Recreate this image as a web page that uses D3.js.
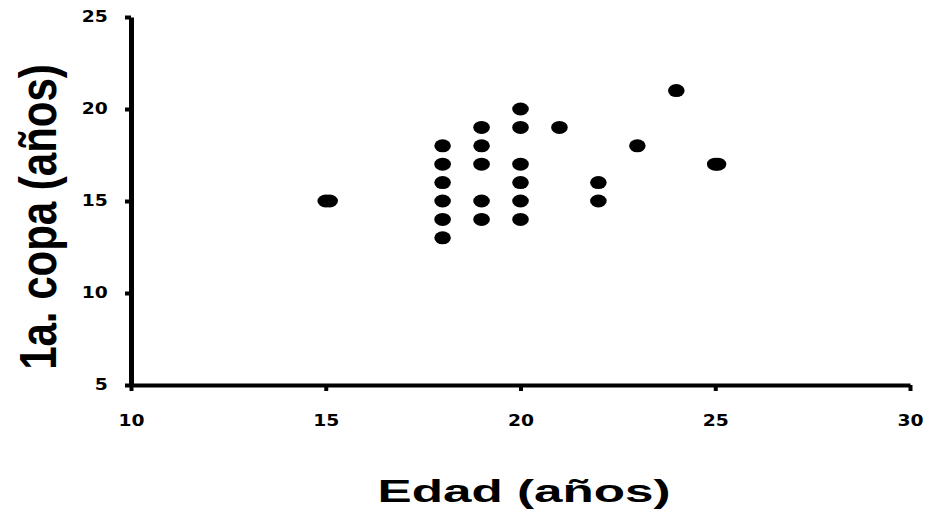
<!DOCTYPE html>
<html>
<head>
<meta charset="utf-8">
<script src="https://cdn.jsdelivr.net/npm/d3@7"></script>
<style>
  body { margin: 0; background: #fff; }
</style>
</head>
<body>
<svg class="vis" width="927" height="518"></svg>
<script>
// scatter: edad vs 1a. copa

var edad = [15, 15.1, 18, 18, 18, 18, 18, 18, 19, 19, 19, 19, 19, 20, 20, 20, 20, 20, 20, 21, 22, 22, 23, 24, 25, 25.07];
var copa = [15, 15, 13, 14, 15, 16, 17, 18, 14, 15, 17, 18, 19, 14, 15, 16, 17, 19, 20, 19, 15, 16, 18, 21, 17, 17];
var xTicks = [10, 15, 20, 25, 30];
var yTicks = [5, 10, 15, 20, 25];

var data = edad.map(function (d, i) { return { x: d, y: copa[i] }; });

var svg = d3.select(".vis");
var stretch = 1.25;

var x = d3.scaleLinear().domain([10, 30]).range([131, 910]);
var y = d3.scaleLinear().domain([5, 25]).range([385, 17]);

// x axis
var xAxis = svg.append("g")
    .attr("transform", "translate(0," + y(5) + ")")
    .call(d3.axisBottom(x).tickValues(xTicks).tickSize(6).tickSizeOuter(0).tickPadding(24));
xAxis.select(".domain").attr("stroke", "#000").attr("stroke-width", 4);
xAxis.selectAll(".tick line").attr("stroke", "#000").attr("stroke-width", 4);
xAxis.selectAll(".tick text")
    .attr("font-family", "DejaVu Sans, Verdana, sans-serif")
    .attr("font-weight", "bold")
    .attr("font-size", "15px")
    .attr("fill", "#000")
    .attr("transform", "scale(" + stretch + ",1)");

// y axis
var yAxis = svg.append("g")
    .attr("transform", "translate(" + x(10) + ",0)")
    .call(d3.axisLeft(y).tickValues(yTicks).tickSize(6).tickSizeOuter(0).tickPadding(12.5));
yAxis.select(".domain").attr("stroke", "#000").attr("stroke-width", 5);
yAxis.selectAll(".tick line").attr("stroke", "#000").attr("stroke-width", 4);
yAxis.selectAll(".tick text")
    .attr("font-family", "DejaVu Sans, Verdana, sans-serif")
    .attr("font-weight", "bold")
    .attr("font-size", "15px")
    .attr("fill", "#000")
    .attr("transform", "scale(" + stretch + ",1)");

// points
svg.selectAll("ellipse")
    .data(data)
    .join("ellipse")
    .attr("cx", function (d) { return x(d.x); })
    .attr("cy", function (d) { return y(d.y); })
    .attr("rx", 8.3)
    .attr("ry", 6.5)
    .attr("fill", "#000");

// axis titles
svg.append("text")
    .attr("transform", "translate(524,502) scale(1.6,1)")
    .attr("text-anchor", "middle")
    .attr("font-family", "Liberation Sans, Arial, sans-serif")
    .attr("font-weight", "bold")
    .attr("font-size", "32px")
    .attr("fill", "#000")
    .text("Edad (años)");

svg.append("text")
    .attr("transform", "translate(56,217) scale(" + stretch + ",1) rotate(-90)")
    .attr("text-anchor", "middle")
    .attr("font-family", "Liberation Sans, Arial, sans-serif")
    .attr("font-weight", "bold")
    .attr("font-size", "42px")
    .attr("fill", "#000")
    .text("1a. copa (años)");
</script>
</body>
</html>
